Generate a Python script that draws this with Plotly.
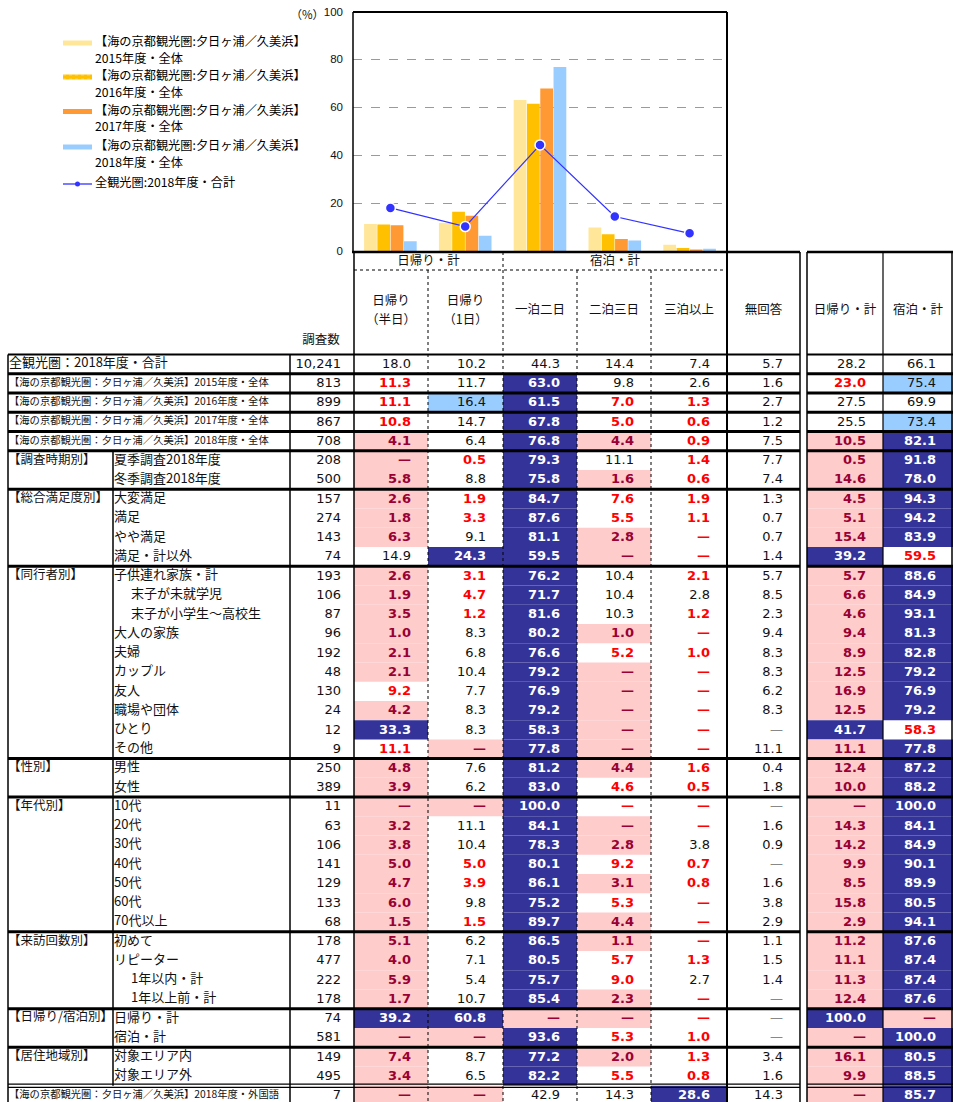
import plotly.graph_objects as go

W, H = 953, 1102

# ---------------- chart data ----------------
categories = ["日帰り（半日）", "日帰り（1日）", "一泊二日", "二泊三日", "三泊以上"]
s2015 = [11.3, 11.7, 63.0, 9.8, 2.6]
s2016 = [11.1, 16.4, 61.5, 7.0, 1.3]
s2017 = [10.8, 14.7, 67.8, 5.0, 0.6]
s2018 = [4.1, 6.4, 76.8, 4.4, 0.9]
all2018 = [18.0, 10.2, 44.3, 14.4, 7.4]
bar_names = ["【海の京都観光圏:夕日ヶ浦／久美浜】2015年度・全体",
             "【海の京都観光圏:夕日ヶ浦／久美浜】2016年度・全体",
             "【海の京都観光圏:夕日ヶ浦／久美浜】2017年度・全体",
             "【海の京都観光圏:夕日ヶ浦／久美浜】2018年度・全体"]
line_name = "全観光圏:2018年度・合計"
y_ticks = [0, 20, 40, 60, 80, 100]

# ---------------- table data ----------------
D = "—"
row_labels = [
    "全観光圏：2018年度・合計",
    "【海の京都観光圏：夕日ヶ浦／久美浜】2015年度・全体",
    "【海の京都観光圏：夕日ヶ浦／久美浜】2016年度・全体",
    "【海の京都観光圏：夕日ヶ浦／久美浜】2017年度・全体",
    "【海の京都観光圏：夕日ヶ浦／久美浜】2018年度・全体",
    "夏季調査2018年度", "冬季調査2018年度",
    "大変満足", "満足", "やや満足", "満足・計以外",
    "子供連れ家族・計", "末子が未就学児", "末子が小学生～高校生", "大人の家族", "夫婦",
    "カップル", "友人", "職場や団体", "ひとり", "その他",
    "男性", "女性",
    "10代", "20代", "30代", "40代", "50代", "60代", "70代以上",
    "初めて", "リピーター", "1年以内・計", "1年以上前・計",
    "日帰り・計", "宿泊・計",
    "対象エリア内", "対象エリア外",
    "【海の京都観光圏：夕日ヶ浦／久美浜】2018年度・外国語",
]
indented_rows = [12, 13, 32, 33]
wide_rows = [0, 1, 2, 3, 4, 38]
group_labels = {5: "【調査時期別】", 7: "【総合満足度別】", 11: "【同行者別】", 21: "【性別】",
                23: "【年代別】", 30: "【来訪回数別】", 34: "【日帰り/宿泊別】", 36: "【居住地域別】"}
sample_n = ["10,241", "813", "899", "867", "708", "208", "500", "157", "274", "143", "74",
            "193", "106", "87", "96", "192", "48", "130", "24", "12", "9", "250", "389",
            "11", "63", "106", "141", "129", "133", "68", "178", "477", "222", "178",
            "74", "581", "149", "495", "7"]
table_values = [
    ["18.0", "10.2", "44.3", "14.4", "7.4", "5.7", "28.2", "66.1"],
    ["11.3", "11.7", "63.0", "9.8", "2.6", "1.6", "23.0", "75.4"],
    ["11.1", "16.4", "61.5", "7.0", "1.3", "2.7", "27.5", "69.9"],
    ["10.8", "14.7", "67.8", "5.0", "0.6", "1.2", "25.5", "73.4"],
    ["4.1", "6.4", "76.8", "4.4", "0.9", "7.5", "10.5", "82.1"],
    [D, "0.5", "79.3", "11.1", "1.4", "7.7", "0.5", "91.8"],
    ["5.8", "8.8", "75.8", "1.6", "0.6", "7.4", "14.6", "78.0"],
    ["2.6", "1.9", "84.7", "7.6", "1.9", "1.3", "4.5", "94.3"],
    ["1.8", "3.3", "87.6", "5.5", "1.1", "0.7", "5.1", "94.2"],
    ["6.3", "9.1", "81.1", "2.8", D, "0.7", "15.4", "83.9"],
    ["14.9", "24.3", "59.5", D, D, "1.4", "39.2", "59.5"],
    ["2.6", "3.1", "76.2", "10.4", "2.1", "5.7", "5.7", "88.6"],
    ["1.9", "4.7", "71.7", "10.4", "2.8", "8.5", "6.6", "84.9"],
    ["3.5", "1.2", "81.6", "10.3", "1.2", "2.3", "4.6", "93.1"],
    ["1.0", "8.3", "80.2", "1.0", D, "9.4", "9.4", "81.3"],
    ["2.1", "6.8", "76.6", "5.2", "1.0", "8.3", "8.9", "82.8"],
    ["2.1", "10.4", "79.2", D, D, "8.3", "12.5", "79.2"],
    ["9.2", "7.7", "76.9", D, D, "6.2", "16.9", "76.9"],
    ["4.2", "8.3", "79.2", D, D, "8.3", "12.5", "79.2"],
    ["33.3", "8.3", "58.3", D, D, D, "41.7", "58.3"],
    ["11.1", D, "77.8", D, D, "11.1", "11.1", "77.8"],
    ["4.8", "7.6", "81.2", "4.4", "1.6", "0.4", "12.4", "87.2"],
    ["3.9", "6.2", "83.0", "4.6", "0.5", "1.8", "10.0", "88.2"],
    [D, D, "100.0", D, D, D, D, "100.0"],
    ["3.2", "11.1", "84.1", D, D, "1.6", "14.3", "84.1"],
    ["3.8", "10.4", "78.3", "2.8", "3.8", "0.9", "14.2", "84.9"],
    ["5.0", "5.0", "80.1", "9.2", "0.7", D, "9.9", "90.1"],
    ["4.7", "3.9", "86.1", "3.1", "0.8", "1.6", "8.5", "89.9"],
    ["6.0", "9.8", "75.2", "5.3", D, "3.8", "15.8", "80.5"],
    ["1.5", "1.5", "89.7", "4.4", D, "2.9", "2.9", "94.1"],
    ["5.1", "6.2", "86.5", "1.1", D, "1.1", "11.2", "87.6"],
    ["4.0", "7.1", "80.5", "5.7", "1.3", "1.5", "11.1", "87.4"],
    ["5.9", "5.4", "75.7", "9.0", "2.7", "1.4", "11.3", "87.4"],
    ["1.7", "10.7", "85.4", "2.3", D, D, "12.4", "87.6"],
    ["39.2", "60.8", D, D, D, D, "100.0", D],
    [D, D, "93.6", "5.3", "1.0", D, D, "100.0"],
    ["7.4", "8.7", "77.2", "2.0", "1.3", "3.4", "16.1", "80.5"],
    ["3.4", "6.5", "82.2", "5.5", "0.8", "1.6", "9.9", "88.5"],
    [D, D, "42.9", "14.3", "28.6", "14.3", D, "85.7"],
]
# n: normal, r: red bold, p: pink cell, N: navy cell, b: light blue cell
table_styles = [
    "nnnnnnnn", "rnNnnnrb", "rbNrrnnn", "rnNrrnnb", "pnNprnpN",
    "prNnrnpN", "pnNprnpN",
    "prNrrnpN", "prNrrnpN", "pnNprnpN", "nNNprnNr",
    "prNnrnpN", "prNnnnpN", "prNnrnpN", "pnNprnpN", "pnNrrnpN",
    "pnNprnpN", "rnNprnpN", "pnNprnpN", "NnNprnNr", "rpNprnpN",
    "pnNprnpN", "pnNrrnpN",
    "ppNrrnpN", "pnNprnpN", "pnNpnnpN", "prNrrnpN", "prNprnpN", "pnNrrnpN", "prNprnpN",
    "pnNprnpN", "pnNrrnpN", "pnNrnnpN", "pnNprnpN",
    "NNpprnNp", "ppNrrnpN",
    "pnNprnpN", "pnNrrnpN",
    "ppnnNnpN",
]
top_headers = ["日帰り・計", "宿泊・計"]
col_headers = [["日帰り", "（半日）"], ["日帰り", "（1日）"], ["一泊二日"], ["二泊三日"],
               ["三泊以上"], ["無回答"], ["日帰り・計"], ["宿泊・計"]]
n_header = "調査数"

# ---------------- geometry ----------------
JP = "Noto Sans CJK JP"
NUM = "DejaVu Sans"
col_left = [354, 428, 503, 577, 651, 727, 807, 883]
col_right = [428, 503, 577, 651, 727, 800, 883, 953]
ROW0, PITCH = 364.2, 19.24
def yc(i):
    return ROW0 + PITCH * i
def yb(i):
    return ROW0 + PITCH * i - PITCH / 2

NAVY, PINK, LBLUE, RED, PINKTXT = "#333399", "#FFCCCC", "#99CCFF", "#FF0000", "#990033"

fig = go.Figure()

# ---------------- bar chart ----------------
bar_colors = ["#FFE699", "#FFC000", "#FF9933", "#99CCFF"]
for name, vals, col in zip(bar_names, [s2015, s2016, s2017, s2018], bar_colors):
    fig.add_trace(go.Bar(x=categories, y=vals, name=name, marker=dict(color=col, line=dict(width=0)),
                         xaxis="x", yaxis="y", showlegend=False, hoverinfo="skip"))
fig.add_trace(go.Scatter(x=categories, y=all2018, name=line_name, mode="lines+markers",
                         line=dict(color="#3333FF", width=1.3),
                         marker=dict(size=10, color="#3333FF", line=dict(color="white", width=1.5)),
                         xaxis="x", yaxis="y", showlegend=False, cliponaxis=False))

shapes = []
def line(x0, y0, x1, y1, w=1.0, dash="solid", color="black"):
    shapes.append(dict(type="line", xref="x2", yref="y2", x0=x0, y0=y0, x1=x1, y1=y1,
                       line=dict(color=color, width=w, dash=dash), layer="above"))
def rect(x0, y0, x1, y1, color):
    shapes.append(dict(type="rect", xref="x2", yref="y2", x0=x0, y0=y0, x1=x1, y1=y1,
                       fillcolor=color, line=dict(width=0), layer="below"))

# ---------------- legend (custom) ----------------
leg_y = [43, 77, 111.5, 147, 184]
leg_colors = bar_colors + ["#3333FF"]
for k in range(4):
    line(63, leg_y[k], 92, leg_y[k], w=5, color=leg_colors[k])
line(63, leg_y[1] - 2.2, 92, leg_y[1] - 2.2, w=1, dash="dot", color="#FFE699")
line(63, leg_y[1] + 2.2, 92, leg_y[1] + 2.2, w=1, dash="dot", color="#FFE699")
line(63, leg_y[4], 92, leg_y[4], w=1.3, color="#3333FF")
shapes.append(dict(type="circle", xref="x2", yref="y2", x0=75, x1=80, y0=leg_y[4] - 2.5,
                   y1=leg_y[4] + 2.5, fillcolor="#3333FF", line=dict(width=0), layer="above"))
leg_tx, leg_ty, leg_tt = [], [], []
for k, nm in enumerate(bar_names):
    a, b = nm.split("】")
    leg_tx += [95, 95]
    leg_ty += [leg_y[k], leg_y[k] + 16.5]
    leg_tt += [a + "】", b]
leg_tx.append(95); leg_ty.append(leg_y[4]); leg_tt.append(line_name)
fig.add_trace(go.Scatter(x=leg_tx, y=leg_ty, text=leg_tt, mode="text", textposition="middle right",
                         textfont=dict(family=JP, size=12.2, color="#000"), xaxis="x2", yaxis="y2",
                         showlegend=False, hoverinfo="skip", cliponaxis=False))

# ---------------- cell fills ----------------
fill_map = {"p": PINK, "N": NAVY, "b": LBLUE}
for i, st in enumerate(table_styles):
    for c, s in enumerate(st):
        if s in fill_map:
            rect(col_left[c], yb(i), col_right[c], yb(i + 1), fill_map[s])

# ---------------- numbers ----------------
nx, ny, nt, ncol = [], [], [], []
for i, (vals, st) in enumerate(zip(table_values, table_styles)):
    for c, (v, s) in enumerate(zip(vals, st)):
        nx.append(col_right[c] - 17)
        ny.append(yc(i) + 0.5)
        if s == "n":
            nt.append(v)
            ncol.append("#888888" if v == D else "#111111")
        elif s == "b":
            nt.append(v); ncol.append("#111111")
        elif s == "r":
            nt.append("<b>" + v + "</b>"); ncol.append(RED)
        elif s == "p":
            nt.append("<b>" + v + "</b>"); ncol.append(PINKTXT)
        else:
            nt.append("<b>" + v + "</b>"); ncol.append("#FFFFFF")
fig.add_trace(go.Scatter(x=nx, y=ny, text=nt, mode="text", textposition="middle left",
                         textfont=dict(family=NUM, size=13, color=ncol), xaxis="x2", yaxis="y2",
                         showlegend=False, hoverinfo="skip", cliponaxis=False))
# sample sizes
fig.add_trace(go.Scatter(x=[341] * len(sample_n), y=[yc(i) + 0.5 for i in range(len(sample_n))],
                         text=sample_n, mode="text", textposition="middle left",
                         textfont=dict(family=NUM, size=13, color="#111111"), xaxis="x2", yaxis="y2",
                         showlegend=False, hoverinfo="skip", cliponaxis=False))

# ---------------- row labels ----------------
lx, ly, lt, ls = [], [], [], []
for i, lab in enumerate(row_labels):
    if i in wide_rows:
        lx.append(9); ls.append(13 if i == 0 else 10.3)
    elif i in indented_rows:
        lx.append(131); ls.append(13)
    else:
        lx.append(114); ls.append(13)
    ly.append(yc(i)); lt.append(lab)
for i, g in group_labels.items():
    lx.append(8); ly.append(yc(i)); lt.append(g); ls.append(12.5)
fig.add_trace(go.Scatter(x=lx, y=ly, text=lt, mode="text", textposition="middle right",
                         textfont=dict(family=JP, size=ls, color="#111111"), xaxis="x2", yaxis="y2",
                         showlegend=False, hoverinfo="skip", cliponaxis=False))

# ---------------- headers ----------------
hx, hy, ht = [], [], []
hx += [(col_left[0] + col_right[1]) / 2, (col_left[2] + col_right[4]) / 2]
hy += [262, 262]
ht += top_headers
for c, hl in enumerate(col_headers):
    cx = (col_left[c] + col_right[c]) / 2
    if len(hl) == 2:
        hx += [cx, cx]; hy += [302, 321]; ht += hl
    else:
        hx.append(cx); hy.append(311); ht.append(hl[0])
hx.append(321); hy.append(341); ht.append(n_header)
fig.add_trace(go.Scatter(x=hx, y=hy, text=ht, mode="text", textposition="middle center",
                         textfont=dict(family=JP, size=12.5, color="#111111"), xaxis="x2", yaxis="y2",
                         showlegend=False, hoverinfo="skip", cliponaxis=False))
# (%) label
fig.add_trace(go.Scatter(x=[324], y=[16], text=["（%）"], mode="text", textposition="middle left",
                         textfont=dict(family=JP, size=11.5, color="#111111"), xaxis="x2", yaxis="y2",
                         showlegend=False, hoverinfo="skip", cliponaxis=False))

# ---------------- grid lines ----------------
BOT = H + 5
# chart frame
line(353, 12, 727, 12, w=2)
line(353, 12, 353, 252, w=1.5)
# header
line(352, 252, 800, 252, w=2.5)
line(807, 252, 953, 252, w=2.5)
line(354, 270, 727, 270, w=1, dash="dot")
# row 0 top
line(8, yb(0), 800, yb(0), w=2)
line(807, yb(0), 953, yb(0), w=2)
thick_after = [1, 2, 3, 4, 5, 7, 11, 21, 23, 30, 34, 36]
for b in thick_after:
    line(8, yb(b), 800, yb(b), w=3)
    line(807, yb(b), 953, yb(b), w=3)
for dy in (-1.6, 1.6):
    line(8, yb(38) + dy, 800, yb(38) + dy, w=1.2)
    line(807, yb(38) + dy, 953, yb(38) + dy, w=1.2)
# verticals
line(8, yb(0), 8, BOT, w=1.5)
line(113, yb(5), 113, yb(38), w=1.5)
line(290, yb(0), 290, BOT, w=1.5)
line(354, 252, 354, BOT, w=1.5)
line(428, 270, 428, BOT, w=1, dash="dot")
line(503, 252, 503, BOT, w=1, dash="dot")
line(577, 270, 577, BOT, w=1, dash="dot")
line(651, 270, 651, BOT, w=1, dash="dot")
line(727, 12, 727, BOT, w=2)
line(800, 252, 800, BOT, w=1.5)
line(807, 252, 807, BOT, w=1.5)
line(883, 252, 883, BOT, w=1.2)
line(952, 252, 952, BOT, w=1.5)

fig.update_layout(
    width=W, height=H, margin=dict(l=0, r=0, t=0, b=0, pad=0, autoexpand=False),
    paper_bgcolor="white", plot_bgcolor="rgba(0,0,0,0)",
    barmode="group", bargap=0.29, bargroupgap=0.04,
    showlegend=False, shapes=shapes,
    xaxis=dict(domain=[353 / W, 727 / W], showticklabels=False, showgrid=False, zeroline=False,
               ticks="", anchor="y", fixedrange=True, automargin=False),
    yaxis=dict(domain=[1 - 251 / H, 1 - 11.5 / H], range=[0, 100], tickvals=y_ticks,
               showgrid=True, gridcolor="#9A9A9A", griddash="dash", gridwidth=1, zeroline=False,
               tickfont=dict(family="Liberation Sans", size=11.5, color="#111"), ticks="",
               ticklabelstandoff=9, anchor="x", fixedrange=True, automargin=False),
    xaxis2=dict(domain=[0, 1], range=[0, W], visible=False, anchor="y2", fixedrange=True,
                automargin=False),
    yaxis2=dict(domain=[0, 1], range=[H, 0], visible=False, anchor="x2", fixedrange=True,
                automargin=False),
)

fig.write_html(
    "out.html",
    config={"displayModeBar": False, "staticPlot": True},
    post_script=("document.documentElement.style.overflow='hidden';"
                 "document.body.style.margin='0';document.body.style.overflow='hidden';"
                 "var gd=document.getElementById('{plot_id}');"
                 "gd.style.position='fixed';gd.style.left='0px';gd.style.top='0px';"),
)
